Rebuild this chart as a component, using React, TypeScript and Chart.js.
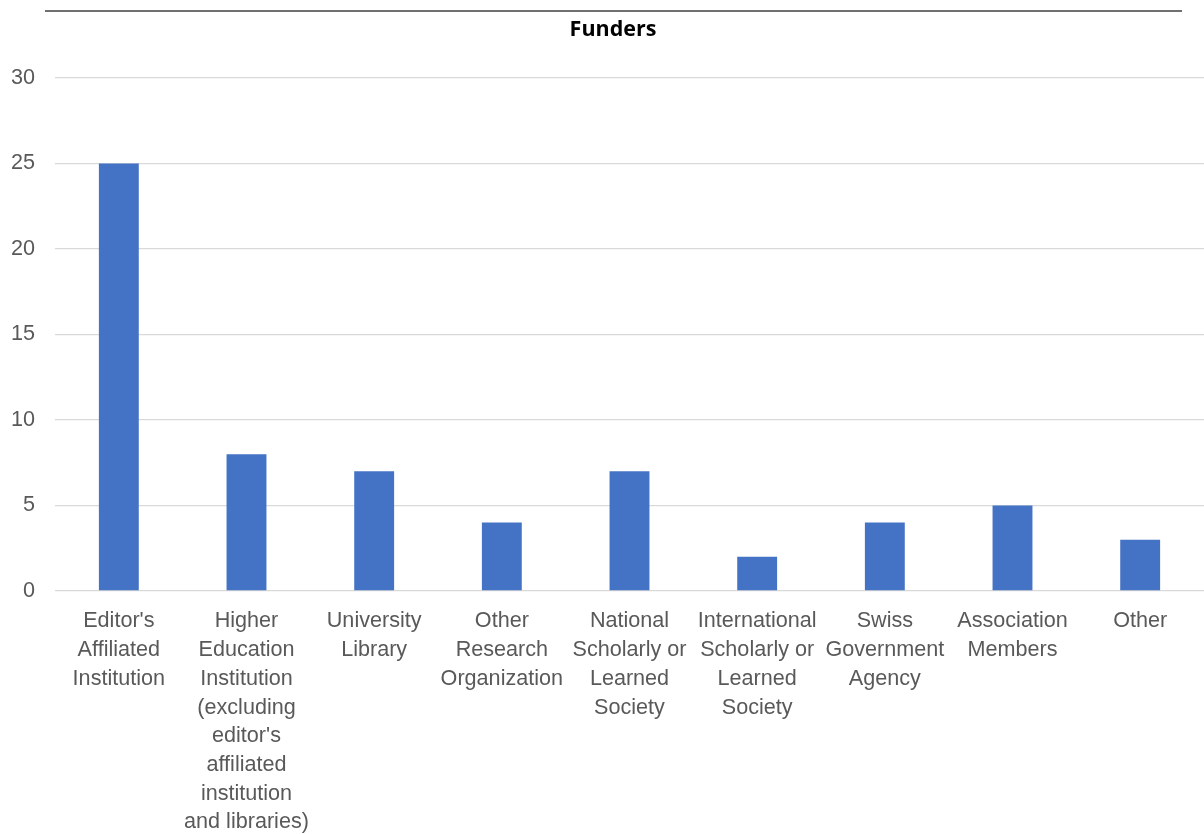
import React, { useEffect, useRef } from "react";
import { Chart, registerables } from "chart.js";

Chart.register(...registerables);

const categories: string[][] = [
  ["Editor's", "Affiliated", "Institution"],
  ["Higher", "Education", "Institution", "(excluding", "editor's", "affiliated", "institution", "and libraries)"],
  ["University", "Library"],
  ["Other", "Research", "Organization"],
  ["National", "Scholarly or", "Learned", "Society"],
  ["International", "Scholarly or", "Learned", "Society"],
  ["Swiss", "Government", "Agency"],
  ["Association", "Members"],
  ["Other"],
];
const funderCounts: number[] = [25, 8, 7, 4, 7, 2, 4, 5, 3];
const titleText = "Funders";

const headerPlugin = {
  id: "header",
  afterDraw(chart: any) {
    const ctx = chart.ctx;
    ctx.save();
    ctx.strokeStyle = "#404040";
    ctx.lineWidth = 1.5;
    ctx.beginPath();
    ctx.moveTo(45, 11);
    ctx.lineTo(1182, 11);
    ctx.stroke();
    ctx.fillStyle = "#000000";
    ctx.font = "bold 21.5px 'Open Sans'";
    ctx.textAlign = "center";
    ctx.textBaseline = "middle";
    ctx.fillText(titleText, 613, 30);
    ctx.restore();
  },
};

export default function App() {
  const ref = useRef<HTMLCanvasElement | null>(null);
  useEffect(() => {
    if (!ref.current) return;
    const chart = new Chart(ref.current, {
      type: "bar",
      data: {
        labels: categories,
        datasets: [
          {
            label: titleText,
            data: funderCounts,
            backgroundColor: "#4472C4",
            barPercentage: 0.3125,
            categoryPercentage: 1,
          },
        ],
      },
      options: {
        animation: false,
        responsive: false,
        maintainAspectRatio: false,
        layout: { padding: { top: 78, left: 0, right: 0, bottom: 0 } },
        plugins: {
          legend: { display: false },
          tooltip: { enabled: false },
          title: { display: false },
        },
        scales: {
          x: {
            grid: { display: false, drawTicks: false },
            border: { display: false },
            afterFit: (axis: any) => {
              axis.height = 243;
            },
            ticks: {
              color: "#595959",
              font: { family: "'Liberation Sans', Arial", size: 21.6, lineHeight: 1.33 },
              maxRotation: 0,
              minRotation: 0,
              autoSkip: false,
              padding: 16,
            },
          },
          y: {
            min: 0,
            max: 30,
            grid: { color: "#d9d9d9", lineWidth: 1.3, drawTicks: false },
            border: { display: false },
            afterFit: (axis: any) => {
              axis.width = 55;
            },
            ticks: {
              stepSize: 5,
              color: "#595959",
              font: { family: "'Liberation Sans', Arial", size: 21.6 },
              padding: 20,
            },
          },
        },
      },
      plugins: [headerPlugin],
    });
    return () => chart.destroy();
  }, []);
  return (
    <div style={{ position: "fixed", left: 0, top: 0, width: 1204, height: 834, background: "#fff" }}>
      <canvas ref={ref} width={1204} height={834} style={{ width: 1204, height: 834 }} />
    </div>
  );
}
